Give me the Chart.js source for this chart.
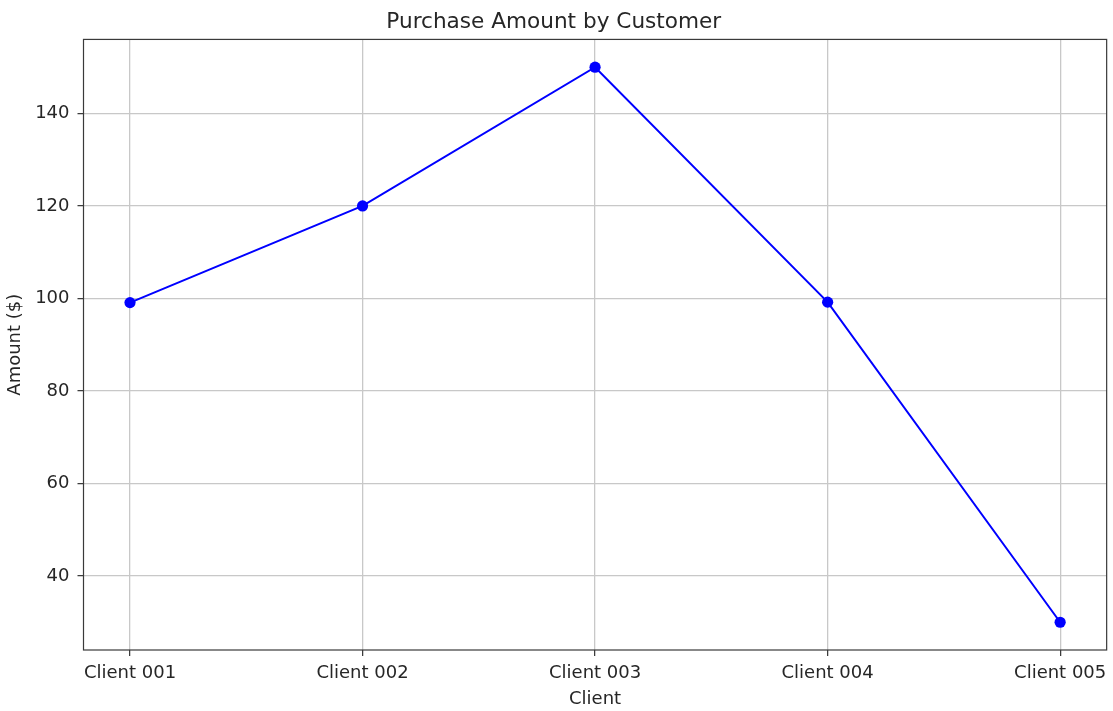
<!DOCTYPE html>
<html>
<head>
<meta charset="utf-8">
<title>Purchase Amount by Customer</title>
<script src="https://cdn.jsdelivr.net/npm/chart.js@4/dist/chart.umd.min.js"></script>
<style>
    html, body { margin: 0; padding: 0; background: #ffffff; }
    #chart { display: block; }
</style>
</head>
<body>
<canvas id="chart" width="1113" height="711"></canvas>
<script>
const clients = ['Client 001', 'Client 002', 'Client 003', 'Client 004', 'Client 005'];
const amounts = [99.1, 120, 150, 99.2, 30];
const amountTicks = [40, 60, 80, 100, 120, 140];

const FONT = '"DejaVu Sans", "Liberation Sans", sans-serif';

// Draw the full box around the plot area (all four spines)
const frame = {
    id: 'frame',
    afterDatasetsDraw(chart) {
        const a = chart.chartArea;
        const ctx = chart.ctx;
        ctx.save();
        ctx.strokeStyle = '#3a3a3a';
        ctx.lineWidth = 1.2;
        ctx.strokeRect(a.left, a.top, a.right - a.left, a.bottom - a.top);
        ctx.restore();
    }
};

const points = amounts.map((v, i) => ({ x: i, y: v }));

new Chart(document.getElementById('chart'), {
    type: 'line',
    data: {
        datasets: [{
            label: 'Amount',
            data: points,
            borderColor: '#0000ff',
            backgroundColor: '#0000ff',
            borderWidth: 2,
            pointRadius: 5.6,
            pointBorderWidth: 0,
            pointBackgroundColor: '#0000ff',
            tension: 0,
            fill: false
        }]
    },
    options: {
        responsive: false,
        animation: false,
        events: [],
        layout: {
            padding: { left: 0, right: 5.5, top: 0, bottom: 0 }
        },
        plugins: {
            legend: { display: false },
            tooltip: { enabled: false },
            title: {
                display: true,
                text: 'Purchase Amount by Customer',
                color: '#262626',
                font: { family: FONT, size: 21.6, weight: 'normal', lineHeight: 1.2 },
                padding: { top: 9.5, bottom: 4 }
            }
        },
        scales: {
            x: {
                type: 'linear',
                min: -0.2,
                max: 4.2,
                afterBuildTicks: function (scale) {
                    scale.ticks = clients.map((c, i) => ({ value: i }));
                },
                afterFit: function (scale) {
                    scale.height = 61;
                },
                ticks: {
                    color: '#262626',
                    font: { family: FONT, size: 18 },
                    padding: 6.5,
                    maxRotation: 0,
                    autoSkip: false,
                    callback: function (value) {
                        return clients[value];
                    }
                },
                grid: {
                    color: '#c8c8c8',
                    lineWidth: 1.3,
                    tickColor: '#333333',
                    tickLength: 6,
                    tickWidth: 1.2
                },
                border: { display: false },
                title: {
                    display: true,
                    text: 'Client',
                    color: '#262626',
                    font: { family: FONT, size: 18, lineHeight: 1.2 },
                    padding: { top: 0, bottom: 1 }
                }
            },
            y: {
                type: 'linear',
                min: 24,
                max: 156,
                afterBuildTicks: function (scale) {
                    scale.ticks = amountTicks.map(v => ({ value: v }));
                },
                afterFit: function (scale) {
                    scale.width = 83.5;
                },
                ticks: {
                    color: '#262626',
                    font: { family: FONT, size: 18 },
                    padding: 8
                },
                grid: {
                    color: '#c8c8c8',
                    lineWidth: 1.3,
                    tickColor: '#333333',
                    tickLength: 6,
                    tickWidth: 1.2
                },
                border: { display: false },
                title: {
                    display: true,
                    text: 'Amount ($)',
                    color: '#262626',
                    font: { family: FONT, size: 18, lineHeight: 1.2 },
                    padding: { top: 4.5, bottom: 0 }
                }
            }
        }
    },
    plugins: [frame]
});
</script>
</body>
</html>
